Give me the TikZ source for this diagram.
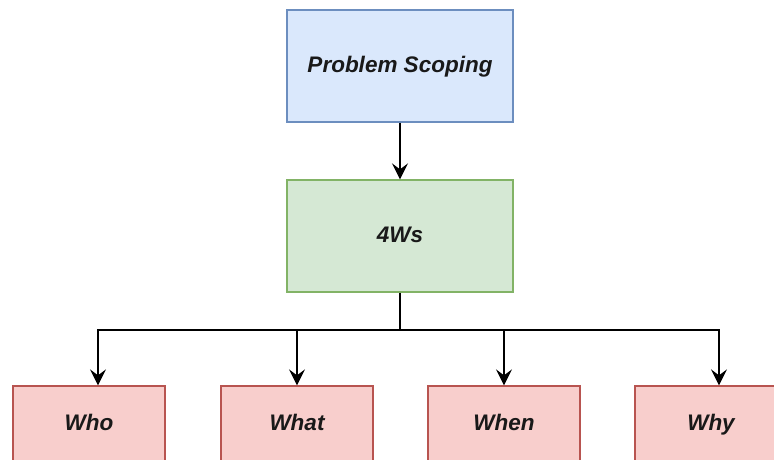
\documentclass[tikz,border=0pt]{standalone}
\usepackage{fontspec}
\setmainfont{Liberation Sans}
\usetikzlibrary{arrows.meta}
\definecolor{bfill}{HTML}{DAE8FC}
\definecolor{bline}{HTML}{6C8EBF}
\definecolor{gfill}{HTML}{D5E8D4}
\definecolor{gline}{HTML}{82B366}
\definecolor{rfill}{HTML}{F8CECC}
\definecolor{rline}{HTML}{B85450}
\begin{document}
\begin{tikzpicture}[x=1pt,y=-1pt,
  box/.style={draw, line width=1.3pt, inner sep=0pt, text=black!90,
    text height=16.5pt, text depth=4.5pt,
    font=\fontsize{22.5}{27}\selectfont\bfseries\itshape},
  bigbox/.style={box, minimum width=226pt, minimum height=112pt},
  smallbox/.style={box, fill=rfill, draw=rline, minimum width=152pt, minimum height=76pt},
  arr/.style={line width=1.7pt, -{Stealth[length=16pt, width=16pt, inset=6pt]}},
  bus/.style={line width=1.7pt}]
\useasboundingbox (0,0) rectangle (774,459);
\clip (0,0) rectangle (774,459);
\node[bigbox, fill=bfill, draw=bline] (ps) at (400,66) {Problem Scoping};
\node[bigbox, fill=gfill, draw=gline] (ws) at (400,236) {4Ws};
\node[smallbox] (who) at (89,424) {Who};
\node[smallbox] (what) at (297,424) {What};
\node[smallbox] (when) at (504,424) {When};
\node[smallbox] (why) at (711,424) {Why};
\coordinate (split) at (400,330);
\draw[arr] (ps) -- (ws);
\draw[bus] (ws.south) -- (split);
\draw[arr] (split) -| ([xshift=9pt]who.north);
\draw[arr] (split) -| (what.north);
\draw[arr] (split) -| (when.north);
\draw[arr] (split) -| ([xshift=8pt]why.north);
\end{tikzpicture}
\end{document}
